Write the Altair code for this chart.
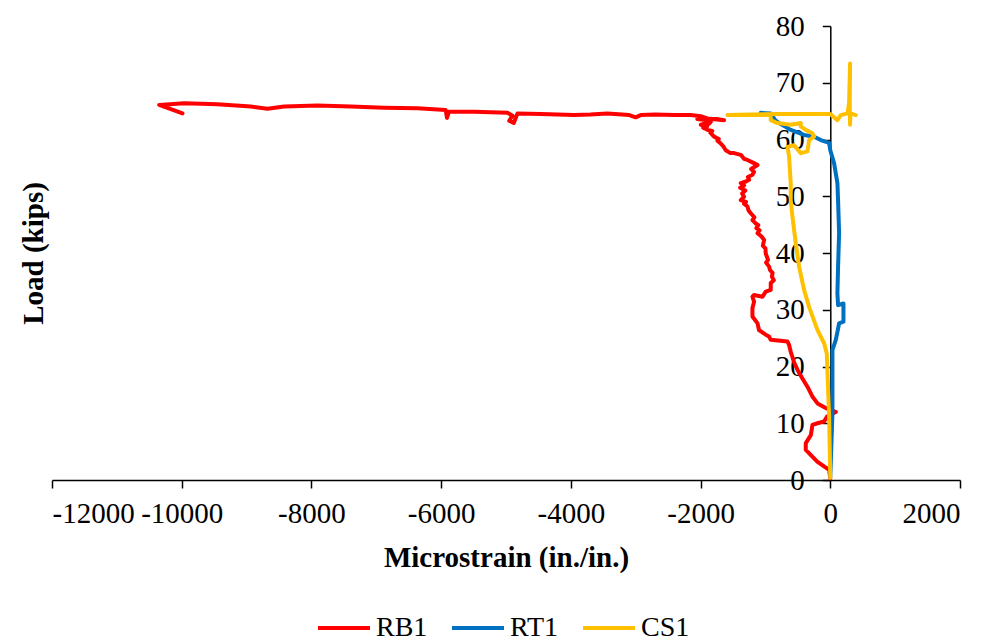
import altair as alt
import pandas as pd

# ---------------- data ----------------
series_names = ["RB1", "RT1", "CS1"]
series_colors = ["#FF0000", "#0070C0", "#FFC000"]

x_ticks = [-12000, -10000, -8000, -6000, -4000, -2000, 0, 2000]
y_ticks = [0, 10, 20, 30, 40, 50, 60, 70, 80]

rb1_x = [0, -18, -197, -378, -378, -300, -275, -197, -95, -50, 85, 0, -70, -197, -275,
         -350, -430, -505, -560, -610, -635, -660, -918, -945, -995, -1098, -1122, -1200,
         -1200, -1175, -1200, -1175, -1045, -995, -918, -918, -870, -900, -890, -930, -943,
         -990, -960, -995, -1000, -1040, -1020, -1060, -1122, -1090, -1140, -1110, -1150,
         -1200, -1170, -1226, -1260, -1277, -1330, -1300, -1380, -1330, -1360, -1310, -1390,
         -1330, -1380, -1300, -1252, -1270, -1200, -1175, -1220, -1122, -1170, -1277, -1330,
         -1380, -1484, -1540, -1612, -1650, -1689, -1740, -1720, -1792, -1850, -1820, -1895,
         -1960, -1900, -1997, -1843, -1950, -1900, -2050, -1750, -1638, -1895, -2000, -2150,
         -2408, -2700, -2922, -3000, -3100, -3436, -3700, -3950, -4464, -4823, -4880, -4950,
         -4900, -4977, -5490, -5880, -5910, -5930, -6365, -6879, -7393, -7907, -8420, -8678,
         -8935, -9449, -9963, -10348, -9988]
rb1_y = [0.3, 1.8, 3.2, 5.3, 6.5, 7.9, 9.7, 10.0, 10.3, 11.2, 12.0, 12.3, 12.7, 13.5, 14.7,
         16.4, 17.9, 19.4, 20.8, 22.6, 23.8, 24.4, 24.7, 25.3, 25.6, 26.4, 27.6, 28.8,
         30.3, 31.4, 32.3, 32.6, 32.3, 33.2, 33.5, 34.7, 35.2, 35.8, 36.5, 37.0, 37.6,
         38.3, 38.8, 39.9, 40.8, 41.3, 42.3, 42.9, 43.5, 44.0, 44.4, 44.9, 45.2,
         45.8, 46.3, 47.0, 47.5, 48.2, 48.7, 49.0, 49.3, 49.9, 50.5, 51.0, 51.5,
         51.9, 52.3, 52.6, 52.9, 53.4, 53.8, 54.3, 54.8, 55.5, 55.8, 56.4, 56.6,
         57.3, 57.6, 57.6, 58.1, 58.8, 59.3, 59.8, 60.1, 60.5, 61.2, 61.5, 61.7,
         62.1, 62.3, 62.6, 63.1, 62.0, 63.4, 63.6, 63.6, 63.4, 63.7, 64.1, 64.3,
         64.3, 64.4, 64.3, 63.9, 64.3, 64.6, 64.4, 64.3, 64.5, 64.6, 62.9, 63.3,
         64.2, 64.7, 64.9, 64.9, 63.8, 65.2, 65.5, 65.6, 65.8, 66.0, 65.8, 65.4,
         65.8, 66.2, 66.4, 66.1, 64.6]

rt1_x = [0, 33, 33, 85, 110, 136, 203, 203, 120, 110, 120, 136, 120, 110, 59, 0, -18,
         -146, -250, -404, -610, -790, -850, -918, -1072]
rt1_y = [0.6, 11.7, 22.9, 24.7, 26.1, 27.6, 27.9, 31.1, 30.8, 32.9, 37.6, 43.5, 49.3,
         52.3, 55.8, 58.1, 59.4, 59.9, 60.5, 60.8, 61.7, 62.9, 63.4, 64.6, 64.7]

cs1_x = [0, -18, -54, -95, -197, -327, -404, -481, -532, -583, -610, -610, -635, -660,
         -558, -455, -352, -327, -250, -275, -378, -455, -455, -610, -815, -918, -918,
         -1380, -1586, -800, 0, 110, 162, 265, 290, 305, 300, 305, 310, 393]
cs1_y = [0.4, 11.2, 22.3, 24.1, 26.4, 30.5, 33.5, 37.6, 41.7, 46.4, 49.3, 52.3, 57.0, 58.7,
         59.0, 57.6, 57.9, 59.9, 60.5, 61.1, 61.7, 62.3, 62.9, 62.6, 62.9, 63.4, 64.3,
         64.3, 64.3, 64.5, 64.5, 63.4, 64.3, 64.6, 66.4, 73.4, 66.4, 62.6, 64.6, 64.3]

# ---------------- table ----------------
rows = []
for name, xs, ys in [("RB1", rb1_x, rb1_y), ("RT1", rt1_x, rt1_y), ("CS1", cs1_x, cs1_y)]:
    for i, (xv, yv) in enumerate(zip(xs, ys)):
        rows.append({"series": name, "strain": xv, "load": yv, "idx": i})
df = pd.DataFrame(rows)

FONT = "Liberation Serif"
W, H = 908, 454
X_MIN, X_MAX = -12000, 2000
zero_px = W * (0 - X_MIN) / (X_MAX - X_MIN)

xscale = alt.Scale(domain=[X_MIN, X_MAX], nice=False, zero=False)
yscale = alt.Scale(domain=[0, 80], nice=False)

x_axis = alt.Axis(
    values=x_ticks, labelExpr="'' + datum.value", title="Microstrain (in./in.)",
    labelFont=FONT, labelFontSize=29, labelColor="black", labelPadding=11,
    tickSize=8, tickWidth=1.5, tickColor="black", domainColor="black", domainWidth=1.5,
    titleFont=FONT, titleFontSize=29, titleFontWeight="bold", titleColor="black",
    titleY=86, titleBaseline="alphabetic", grid=False,
)
y_axis = alt.Axis(
    values=y_ticks, offset=-zero_px, title="Load (kips)",
    labelFont=FONT, labelFontSize=29, labelColor="black", labelPadding=18,
    tickSize=8, tickWidth=1.5, tickColor="black", domainColor="black", domainWidth=1.5,
    titleFont=FONT, titleFontSize=29, titleFontWeight="bold", titleColor="black",
    titleX=-(zero_px + 19), titleY=H / 2, titleAngle=270, titleAlign="center",
    titleBaseline="middle", grid=False,
)
color = alt.Color(
    "series:N",
    scale=alt.Scale(domain=series_names, range=series_colors),
    legend=alt.Legend(
        orient="none", legendX=264, legendY=574, direction="horizontal", title=None,
        symbolType="stroke", symbolSize=2700, symbolStrokeWidth=4,
        labelFont=FONT, labelFontSize=28, labelColor="black", labelOffset=4,
        columnPadding=16, padding=0,
    ),
)

layers = []
for s in series_names:
    layers.append(
        alt.Chart(df)
        .transform_filter(alt.datum.series == s)
        .mark_line(strokeWidth=4, strokeJoin="round", strokeCap="round")
        .encode(
            x=alt.X("strain:Q", scale=xscale, axis=x_axis),
            y=alt.Y("load:Q", scale=yscale, axis=y_axis),
            color=color,
            order="idx:Q",
        )
    )

chart = (
    alt.layer(*layers)
    .properties(
        width=W, height=H,
        autosize=alt.AutoSizeParams(type="none"),
        padding={"left": 44, "top": 18, "right": 20, "bottom": 162},
    )
    .configure_view(stroke=None)
)

chart.save("out.html", embed_options={"renderer": "svg", "actions": False})
